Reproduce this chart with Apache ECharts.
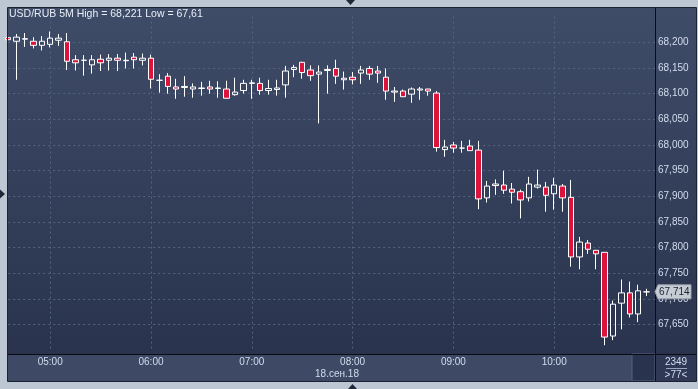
<!DOCTYPE html>
<html>
<head>
<meta charset="utf-8">
<script src="https://cdn.jsdelivr.net/npm/echarts@6/dist/echarts.min.js"></script>
<style>
html,body{margin:0;padding:0;background:#bdc7d4;}
#chart{width:698px;height:389px;}
</style>
</head>
<body>
<div id="chart"></div>
<script>
// ---- data ----
const categories = [
 '04:35','04:40','04:45','04:50','04:55',
 '05:00','05:05','05:10','05:15','05:20','05:25','05:30','05:35','05:40','05:45','05:50','05:55',
 '06:00','06:05','06:10','06:15','06:20','06:25','06:30','06:35','06:40','06:45','06:50','06:55',
 '07:00','07:05','07:10','07:15','07:20','07:25','07:30','07:35','07:40','07:45','07:50','07:55',
 '08:00','08:05','08:10','08:15','08:20','08:25','08:30','08:35','08:40','08:45','08:50','08:55',
 '09:00','09:05','09:10','09:15','09:20','09:25','09:30','09:35','09:40','09:45','09:50','09:55',
 '10:00','10:05','10:10','10:15','10:20','10:25','10:30','10:35','10:40','10:45','10:50','10:55',
 '11:00'
];
const timeLabels = ['05:00','06:00','07:00','08:00','09:00','10:00'];
const openValues = [
 68.209,68.202,68.206,68.202,68.194,68.196,68.204,68.201,68.166,68.165,
 68.156,68.167,68.165,68.169,68.164,68.171,68.165,68.169,68.126,68.134,
 68.113,68.112,68.109,68.111,68.113,68.111,68.109,68.098,68.106,68.120,
 68.120,68.106,68.108,68.117,68.147,68.161,68.146,68.138,68.145,68.149,
 68.127,68.132,68.140,68.149,68.144,68.132,68.103,68.105,68.099,68.107,
 68.109,68.101,67.991,68.000,67.994,67.998,67.990,67.897,67.921,67.922,
 67.914,67.909,67.897,67.918,67.918,67.905,67.920,67.898,67.782,67.809,
 67.795,67.791,67.628,67.692,67.712,67.671,67.714
];
const closeValues = [
 68.205,68.210,68.207,68.194,68.202,68.208,68.208,68.163,68.160,68.165,
 68.166,68.160,68.169,68.165,68.165,68.166,68.169,68.128,68.126,68.114,
 68.109,68.114,68.113,68.110,68.109,68.110,68.091,68.103,68.120,68.121,
 68.106,68.110,68.111,68.144,68.151,68.141,68.135,68.142,68.147,68.134,
 68.130,68.127,68.146,68.138,68.140,68.105,68.105,68.094,68.109,68.109,
 68.105,67.995,67.996,67.994,67.994,67.989,67.895,67.920,67.924,67.912,
 67.908,67.893,67.924,67.922,67.902,67.922,67.897,67.782,67.811,67.797,
 67.788,67.626,67.690,67.712,67.671,67.716,67.714
];
const lowValues = [
 68.204,68.127,68.191,68.188,68.184,68.190,68.193,68.146,68.145,68.135,
 68.139,68.144,68.145,68.144,68.149,68.149,68.155,68.110,68.102,68.100,
 68.090,68.094,68.092,68.096,68.100,68.092,68.091,68.096,68.100,68.090,
 68.098,68.098,68.096,68.092,68.132,68.129,68.125,68.042,68.100,68.119,
 68.108,68.118,68.119,68.127,68.121,68.088,68.084,68.094,68.082,68.088,
 68.096,67.987,67.977,67.985,67.985,67.989,67.875,67.888,67.903,67.905,
 67.886,67.857,67.890,67.915,67.870,67.874,67.870,67.763,67.758,67.788,
 67.758,67.610,67.620,67.641,67.664,67.655,67.706
];
const highValues = [
 68.210,68.216,68.218,68.210,68.212,68.221,68.216,68.218,68.175,68.175,
 68.175,68.176,68.177,68.177,68.180,68.179,68.178,68.176,68.138,68.140,
 68.129,68.134,68.120,68.123,68.125,68.124,68.125,68.131,68.127,68.127,
 68.131,68.127,68.127,68.154,68.156,68.162,68.155,68.155,68.155,68.166,
 68.143,68.142,68.154,68.154,68.154,68.149,68.113,68.108,68.112,68.113,
 68.109,68.105,68.010,68.006,68.008,68.010,68.008,67.930,67.933,67.950,
 67.926,67.913,67.938,67.952,67.928,67.936,67.924,67.932,67.821,67.815,
 67.795,67.791,67.697,67.738,67.734,67.728,67.720
];
const yMin = 67.60, yMax = 68.25, yStep = 0.05;
const lastPrice = 67.714;
const titleText = 'USD/RUB 5M High = 68,221 Low = 67,61';
const dateText = '18.сен.18';
const infoTop = '2349', infoBottom = '>77<';

// ---- build ----
const ohlc = openValues.map((o, i) => [o, closeValues[i], lowValues[i], highValues[i]]);
const fmt = v => v.toFixed(3).replace('.', ',');
const isHour = (i, v) => timeLabels.indexOf(v) >= 0;
const FONT = 'Liberation Sans';
const TXT = '#d3dcee';
const bgGrad = {type:'linear',x:0,y:0,x2:0,y2:1,colorStops:[{offset:0,color:'#3f4c68'},{offset:1,color:'#29334d'}]};

const baseGraphic = [
  {type:'rect', z:-10, shape:{x:8,y:8,width:647,height:346}, style:{fill:bgGrad}},
  {type:'rect', z:-10, shape:{x:655,y:8,width:41,height:346}, style:{fill:bgGrad}},
  {type:'rect', z:-10, shape:{x:8,y:354,width:647,height:27}, style:{fill:'#3d4965'}},
  {type:'rect', z:-9, shape:{x:632,y:354,width:23,height:27}, style:{fill:'#29334e', stroke:'#56627e', lineWidth:1}},
  {type:'rect', z:-10, shape:{x:655,y:354,width:41,height:27}, style:{fill:'#2f3956'}},
  {type:'line', z:50, shape:{x1:8,y1:354.5,x2:696,y2:354.5}, style:{stroke:'#0b0d12', lineWidth:1}},
  {type:'line', z:50, shape:{x1:655.5,y1:8,x2:655.5,y2:381}, style:{stroke:'#0b0d12', lineWidth:1}},
  {type:'rect', z:50, shape:{x:7.5,y:7.5,width:689,height:374}, style:{fill:null, stroke:'#1b2230', lineWidth:1}},
  {type:'text', z:50, x:676, y:362, style:{text:infoTop, fill:TXT, fontSize:10, fontFamily:FONT, align:'center', verticalAlign:'middle'}},
  {type:'line', z:50, shape:{x1:666,y1:368.5,x2:687,y2:368.5}, style:{stroke:'#9aa6bd', lineWidth:1}},
  {type:'text', z:50, x:676, y:375, style:{text:infoBottom, fill:TXT, fontSize:10, fontFamily:FONT, align:'center', verticalAlign:'middle'}},
  {type:'text', z:50, x:337, y:374, style:{text:dateText, fill:TXT, fontSize:10, fontFamily:FONT, align:'center', verticalAlign:'middle'}},
  {type:'polygon', z:50, shape:{points:[[346,0],[355,0],[350.5,5]]}, style:{fill:'#1f2838'}},
  {type:'polygon', z:50, shape:{points:[[348,389],[357,389],[352.5,384]]}, style:{fill:'#1f2838'}},
  {type:'polygon', z:50, shape:{points:[[0,189.5],[0,198.5],[5,194]]}, style:{fill:'#1f2838'}}
];

const chart = echarts.init(document.getElementById('chart'), null, {renderer:'canvas'});
chart.setOption({
  animation: false,
  backgroundColor: '#bdc7d4',
  title: {
    text: titleText, left: 9, top: 9, padding: 0,
    textStyle: {color:'#e8eef7', fontSize: 10.5, fontWeight:'normal', fontFamily: FONT}
  },
  grid: {left: 8.2, right: 43, top: 16.6, bottom: 38.6, containLabel: false},
  xAxis: {
    type: 'category', data: categories, boundaryGap: false,
    axisLine: {show:false}, axisTick: {show:false},
    axisLabel: {interval: isHour, color: TXT, fontSize: 10, fontFamily: FONT, margin: 7},
    splitLine: {show: true, interval: isHour,
      lineStyle: {color:'#56637f', type:[2,3], width:1}}
  },
  yAxis: {
    type: 'value', position: 'right', min: yMin, max: yMax, interval: yStep, scale: true,
    axisLine: {show:false}, axisTick: {show:false},
    axisLabel: {showMinLabel:false, showMaxLabel:false, formatter: fmt,
      color: TXT, fontSize: 10, fontFamily: FONT, margin: 3},
    splitLine: {show:true, showMinLine:false, showMaxLine:false,
      lineStyle: {color:'#56637f', type:[2,3], width:1}}
  },
  series: [{
    type: 'candlestick', data: ohlc, barWidth: 6,
    itemStyle: {color:'rgba(0,0,0,0)', color0:'#dc143c', borderColor:'#ffffff',
      borderColor0:'#ffffff', borderColorDoji:'#ffffff', borderWidth:1}
  }],
  graphic: baseGraphic
});

// current price marker placed through the y axis scale
const py = chart.convertToPixel({yAxisIndex: 0}, lastPrice);
chart.setOption({
  graphic: baseGraphic.concat([
    {type:'polygon', z:60, shape:{points:[[655,py],[658,py-7],[691,py-7],[691,py+7],[658,py+7]]},
      style:{fill:'#c6ccd4', stroke:'#9aa2ad', lineWidth:1}},
    {type:'text', z:61, x:659, y:py, style:{text:fmt(lastPrice), fill:'#1a2133', fontSize:10,
      fontFamily:FONT, align:'left', verticalAlign:'middle'}}
  ])
});
</script>
</body>
</html>
